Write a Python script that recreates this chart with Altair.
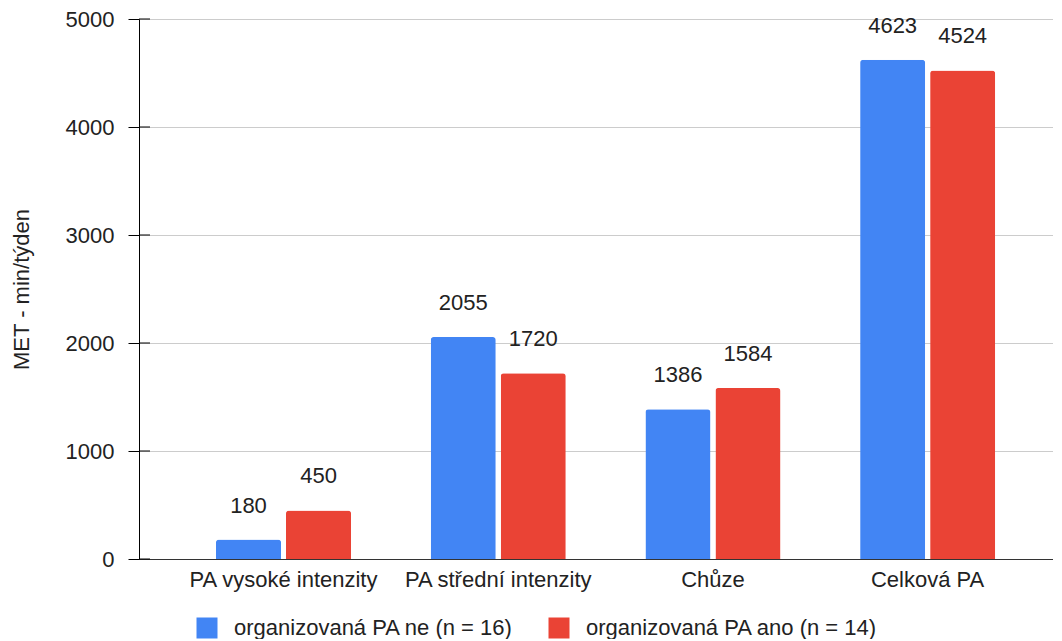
import altair as alt
import pandas as pd

categories = ["PA vysoké intenzity", "PA střední intenzity", "Chůze", "Celková PA"]
series = ["organizovaná PA ne (n = 16)", "organizovaná PA ano (n = 14)"]
values_ne = [180, 2055, 1386, 4623]
values_ano = [450, 1720, 1584, 4524]
y_ticks = [0, 1000, 2000, 3000, 4000, 5000]
colors = ["#4285F4", "#EA4335"]

rows = []
for c, a, b in zip(categories, values_ne, values_ano):
    rows.append({"kategorie": c, "skupina": series[0], "hodnota": a})
    rows.append({"kategorie": c, "skupina": series[1], "hodnota": b})
df = pd.DataFrame(rows)
ticks_df = pd.DataFrame({"hodnota": y_ticks})

FONT = "Liberation Sans"
TXT = "#222222"

x_enc = alt.X(
    "kategorie:N", sort=categories,
    scale=alt.Scale(paddingInner=0.371, paddingOuter=0.314, align=0.571),
    axis=alt.Axis(title=None, labelAngle=0, ticks=False, labelPadding=10,
                  labelFontSize=22, labelFont=FONT, labelColor=TXT, labelLimit=0,
                  domainColor="#333333", domainWidth=1, grid=False),
)
xoff = alt.XOffset("skupina:N", sort=series,
                   scale=alt.Scale(paddingInner=0.071, paddingOuter=0))
y_scale = alt.Scale(domain=[0, 5000], nice=False)
y_enc = alt.Y(
    "hodnota:Q", scale=y_scale,
    axis=alt.Axis(title="MET - min/týden", values=y_ticks, format="d", tickSize=11,
                  tickColor="#000000", tickWidth=1, domainColor="#000000",
                  domainWidth=1, grid=True, gridColor="#cccccc", gridWidth=1,
                  labelPadding=14, labelFontSize=22, labelFont=FONT,
                  labelColor=TXT, titleFont=FONT, titleFontSize=22,
                  titleFontWeight="normal", titleColor=TXT, titlePadding=32),
)
color_enc = alt.Color(
    "skupina:N", sort=series,
    scale=alt.Scale(domain=series, range=colors),
    legend=alt.Legend(title=None, orient="none", legendX=57, legendY=598,
                      direction="horizontal", symbolType="square",
                      symbolSize=441, symbolStrokeWidth=0, labelOffset=16,
                      columnPadding=34, padding=0, labelFont=FONT,
                      labelFontSize=22, labelColor=TXT, labelLimit=0),
)

bars = alt.Chart(df).mark_bar(cornerRadiusTopLeft=3, cornerRadiusTopRight=3).encode(
    x=x_enc, xOffset=xoff, y=y_enc, color=color_enc
)
labels = alt.Chart(df).mark_text(
    dy=-27, baseline="alphabetic", align="center", fontSize=22, font=FONT, color=TXT
).encode(x=x_enc, xOffset=xoff, y=alt.Y("hodnota:Q", scale=y_scale), text="hodnota:Q")
inner_ticks = alt.Chart(ticks_df).mark_rule(color="#000000", strokeWidth=1).encode(
    y=alt.Y("hodnota:Q", scale=y_scale), x=alt.value(0), x2=alt.value(11)
)

chart = alt.layer(bars, labels, inner_ticks).properties(
    width=914, height=540,
    padding={"left": 2, "top": 0, "right": 0, "bottom": 0},
).configure_view(stroke=None)

chart.save("out.html", embed_options={"renderer": "svg", "actions": False})
